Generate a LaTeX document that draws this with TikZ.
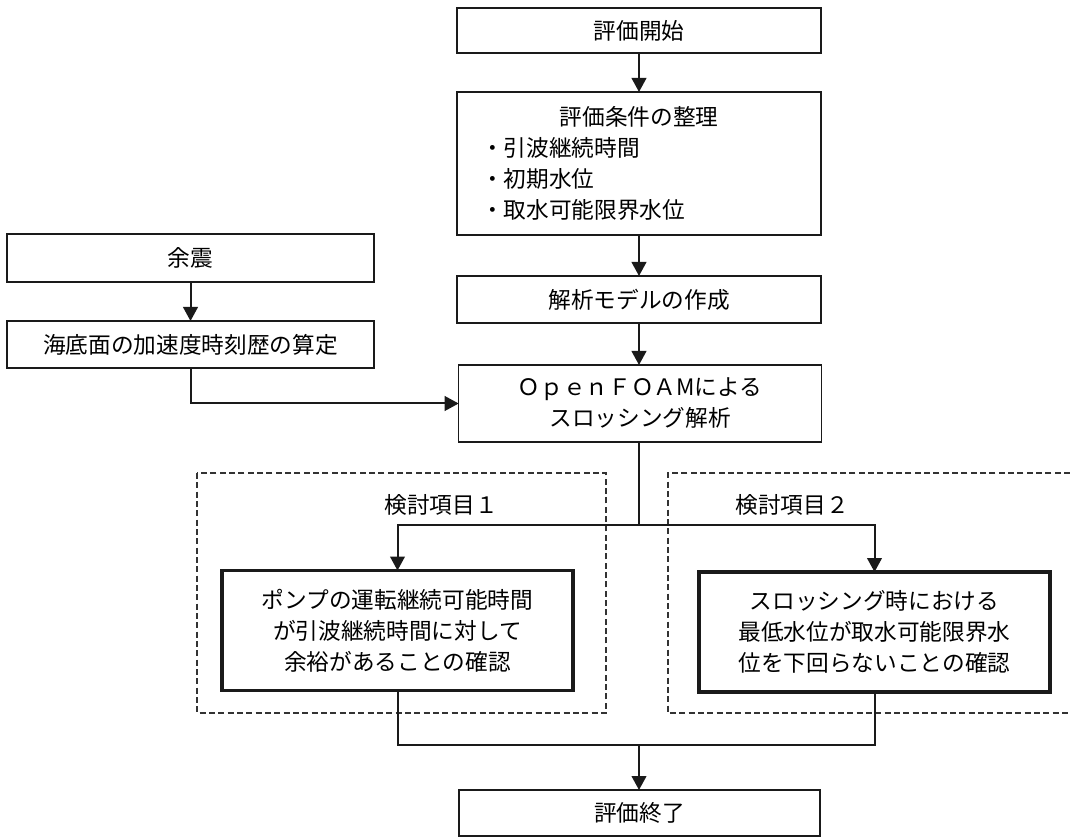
\documentclass[tikz,border=0pt]{standalone}
\usepackage{fontspec}
\setmainfont{Noto Sans CJK JP}
\usepackage{xcolor}
\usetikzlibrary{positioning,calc,arrows.meta}
\definecolor{lineclr}{HTML}{1a1a1a}
\definecolor{dashclr}{HTML}{333333}

\tikzset{
  box/.style={draw=lineclr, line width=1.1pt, inner sep=0pt, outer sep=0pt,
    align=center, font=\fontsize{17}{23.25}\selectfont},
  boldbox/.style={box, line width=2.3pt},
  flow/.style={draw=lineclr, line width=1.5pt},
  flowarrow/.style={flow, -{Triangle[length=10.5pt, width=11pt]}},
  groupline/.style={draw=dashclr, line width=1.1pt, dash pattern=on 4.5pt off 2.5pt},
  grouplabel/.style={font=\fontsize{17}{23.25}\selectfont}
}

\begin{document}
\begin{tikzpicture}[x=0.75pt, y=-0.75pt]
  \useasboundingbox (0,0) rectangle (1070,837);

  % Main column
  \node[box, minimum width=273pt, minimum height=33.75pt] (start) at (639,30.5) {評価開始};
  \node[box, minimum width=273pt, minimum height=107.25pt, text width=237pt, inner xsep=18pt, align=left] (cond) at (639,163.5)
    {\makebox[237pt]{評価条件の整理}\\・引波継続時間\\・初期水位\\・取水可能限界水位};
  \node[box, minimum width=273pt, minimum height=35.25pt] (model) at (639,299.5) {解析モデルの作成};
  \node[box, minimum width=272pt, minimum height=57.75pt] (foam) at (640,403.5)
    {ＯｐｅｎＦＯＡMによる\\スロッシング解析};

  % Aftershock input
  \node[box, minimum width=275.25pt, minimum height=36pt] (shock) at (190.5,258) {余震};
  \node[box, minimum width=275.25pt, minimum height=35.25pt] (accel) at (190.5,344.5) {海底面の加速度時刻歴の算定};

  % Study items (dashed groups)
  \draw[groupline] (197,473) rectangle (606,713);
  \draw[groupline] (1070,473) -- (668,473) -- (668,713) -- (1070,713);
  \node[grouplabel] (labelA) at (441,505) {検討項目１};
  \node[grouplabel] (labelB) at (792,505) {検討項目２};

  \node[boldbox, minimum width=263.25pt, minimum height=90pt] (checkA) at (397.5,630.5)
    {ポンプの運転継続可能時間\\が引波継続時間に対して\\余裕があることの確認};
  \node[boldbox, minimum width=263.25pt, minimum height=90pt] (checkB) at (874.5,632)
    {スロッシング時における\\最低水位が取水可能限界水\\位を下回らないことの確認};

  \node[box, minimum width=271pt, minimum height=34.5pt] (finish) at (639.5,813) {評価終了};

  % Connectors
  \coordinate (split) at (639,525);
  \coordinate (join) at (639,745);
  \draw[flowarrow] (start) -- (cond);
  \draw[flowarrow] (cond) -- (model);
  \draw[flowarrow] (model) -- (model |- foam.north);
  \draw[flowarrow] (shock) -- (accel);
  \draw[flowarrow] (accel.south) |- (foam.west);
  \draw[flow] (foam.south -| split) -- (split);
  \draw[flowarrow] (split) -| (checkA.north);
  \draw[flowarrow] (split) -| (checkB.north);
  \draw[flow] (checkA.south) |- (join) -| (checkB.south);
  \draw[flowarrow] (join) -- (finish.north -| join);
\end{tikzpicture}
\end{document}
